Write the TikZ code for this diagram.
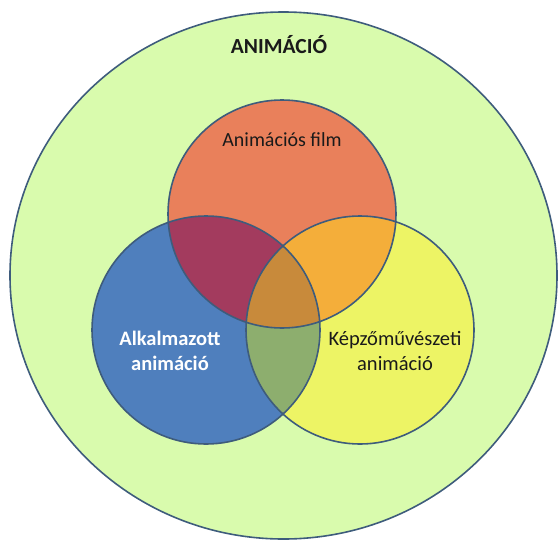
\documentclass[tikz,border=0pt]{standalone}
\usepackage{fontspec}
\setmainfont{Carlito}
\usetikzlibrary{shapes.geometric}
\definecolor{outerfill}{HTML}{D9FBAD}
\definecolor{outline}{HTML}{3E5C7C}
\definecolor{redc}{HTML}{E9805B}
\definecolor{bluec}{HTML}{4F7FBD}
\definecolor{yellowc}{HTML}{EDF465}
\definecolor{rbc}{HTML}{A33B5E}
\definecolor{ryc}{HTML}{F4AE3A}
\definecolor{byc}{HTML}{8DAE6E}
\definecolor{rbyc}{HTML}{C88A3B}
\definecolor{txt}{HTML}{1A1A1A}
\tikzset{
  setcircle/.style={circle, minimum size=228pt, inner sep=0pt, outer sep=0pt},
  rim/.style={draw=outline, line width=1.6pt},
  lbl/.style={font=\fontsize{20.5}{25}\selectfont, align=center, text=txt, inner sep=0pt}
}
\begin{document}
\begin{tikzpicture}[x=1pt,y=-1pt]
\useasboundingbox (0,0) rectangle (559,541);
\node[ellipse, rim, fill=outerfill, minimum width=547pt, minimum height=527pt, inner sep=0pt] (outer) at (283.5,275.5) {};
\node[setcircle, fill=redc] (film) at (282,214) {};
\node[setcircle, fill=bluec] (alk) at (206,330) {};
\node[setcircle, fill=yellowc] (kep) at (360,330) {};
\begin{scope}
  \clip (film.center) circle (114pt);
  \fill[rbc] (alk.center) circle (114pt);
  \fill[ryc] (kep.center) circle (114pt);
  \clip (alk.center) circle (114pt);
  \fill[rbyc] (kep.center) circle (114pt);
\end{scope}
\begin{scope}
  \clip (alk.center) circle (114pt);
  \clip (kep.center) circle (114pt);
  \fill[byc] (kep.center) circle (114pt);
  \clip (film.center) circle (114pt);
  \fill[rbyc] (kep.center) circle (114pt);
\end{scope}
\draw[rim] (film.center) circle (114pt);
\draw[rim] (alk.center) circle (114pt);
\draw[rim] (kep.center) circle (114pt);
\node[lbl, font=\bfseries\fontsize{21.5}{26}\selectfont] (title) at (279,45) {ANIMÁCIÓ};
\node[lbl, font=\fontsize{20}{24}\selectfont] (filmlbl) at (282,140) {Animációs film};
\node[lbl, font=\bfseries\fontsize{20.5}{25}\selectfont, text=white] (alklbl) at (170,351) {Alkalmazott\\animáció};
\node[lbl] (keplbl) at (395,351) {Képzőművészeti\\animáció};
\end{tikzpicture}
\end{document}
